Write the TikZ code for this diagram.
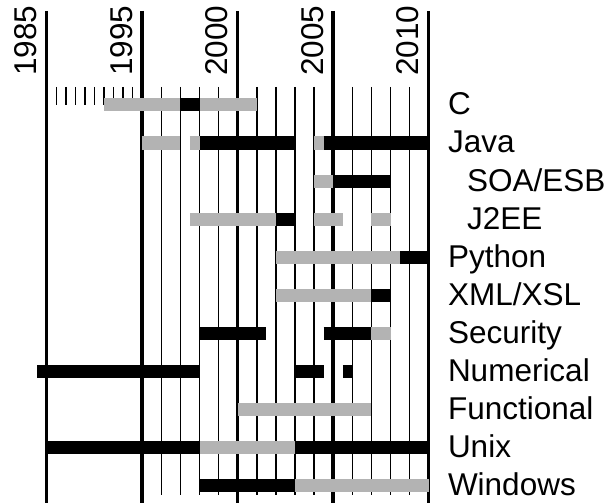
\documentclass[tikz,border=0pt]{standalone}
\usepackage{xcolor}
\usepackage{fontspec}
\setmainfont{Liberation Sans}
\usepackage{tikz}
\usetikzlibrary{positioning, calc}

\definecolor{bargray}{RGB}{179,179,179}
\tikzset{
	gbar/.style={line width=13pt, draw=bargray},
	kbar/.style={line width=13pt, draw=black},
	yrline/.style={line width=3.5pt},
	thinline/.style={line width=1.4pt},
	yearlab/.style={rotate=90, anchor=base west, inner sep=0pt, font=\fontsize{31.5}{36}\selectfont},
	rowlab/.style={anchor=base west, inner sep=0pt, font=\fontsize{31.5}{36}\selectfont}
}

\begin{document}
\begin{tikzpicture}[x=19.1pt, y=-38pt]
		\useasboundingbox (-46.7pt,105pt) rectangle (563.3pt,-398pt);
		% year grid
		\foreach \p in {0.5,1,...,4.5}
			\draw [thinline] ([yshift=18pt]\p,0) -- ([yshift=0pt]\p,0);
		\foreach \p in {6,7,8,9,11,12,13,14,16,17,18,19}
			\draw [thinline] ([yshift=18pt]\p,0) -- ([yshift=-390pt]\p,0);
		\foreach \p in {0,5,10,15,20}
			\draw [yrline] ([yshift=94pt]\p,0) -- ([yshift=-398pt]\p,0);
		
		\node [yearlab] (y1985) at ([shift={(-10pt,29pt)}]0,0) {1985};
		\node [yearlab] (y1995) at ([shift={(-10pt,29pt)}]5,0) {1995};
		\node [yearlab] (y2000) at ([shift={(-10pt,29pt)}]10,0) {2000};
		\node [yearlab] (y2005) at ([shift={(-10pt,29pt)}]15,0) {2005};
		\node [yearlab] (y2010) at ([shift={(-10pt,29pt)}]20,0) {2010};
		
		% bars
		\foreach \r/\a/\b in {0/3/7, 0/8/11, 1/5/7, 1/7.5/8, 1/14/14.5, 2/14/15,
			3/7.5/12, 3/14/15.5, 3/17/18, 4/12/18.5, 5/12/17, 6/17/18, 8/10/17,
			9/8/13, 10/13/20}
			\draw [gbar] (\a,\r) -- (\b,\r);
		\foreach \r/\a/\b in {0/7/8, 1/8/13, 1/14.5/20, 2/15/18, 3/12/13, 4/18.5/20,
			5/17/18, 6/8/11.5, 6/14.5/17, 7/-0.5/8, 7/13/14.5, 7/15.5/16,
			9/0/8, 9/13/20, 10/8/13}
			\draw [kbar] (\a,\r) -- (\b,\r);
		
		% topics
		\node [rowlab] (lc) at ([yshift=-10pt]21,0) {C};
		\node [rowlab] (ljava) at ([yshift=-10pt]21,1) {Java};
		\node [rowlab] (lsoa) at ([yshift=-10pt]22,2) {SOA/ESB};
		\node [rowlab] (lj2ee) at ([yshift=-10pt]22,3) {J2EE};
		\node [rowlab] (lpython) at ([yshift=-10pt]21,4) {Python};
		\node [rowlab] (lxml) at ([yshift=-10pt]21,5) {XML/XSL};
		\node [rowlab] (lsec) at ([yshift=-10pt]21,6) {Security};
		\node [rowlab] (lnum) at ([yshift=-10pt]21,7) {Numerical};
		\node [rowlab] (lfun) at ([yshift=-10pt]21,8) {Functional};
		\node [rowlab] (lunix) at ([yshift=-10pt]21,9) {Unix};
		\node [rowlab] (lwin) at ([yshift=-10pt]21,10) {Windows};
\end{tikzpicture}
\end{document}
